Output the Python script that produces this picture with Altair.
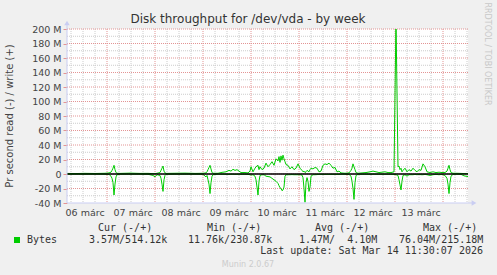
import altair as alt
import pandas as pd

# ---- data (hours since 06 márc 00:00, MB/s) ----
hours = [4, 8, 13, 18, 23, 25, 26, 26.5, 27, 27.5,
         28, 28.5, 29, 30.5, 35.5, 40.5, 44.5, 47, 48, 49,
         50.5, 51, 51.5, 52, 52.5, 53, 53.5, 58, 63, 68,
         72, 73.5, 74, 74.5, 75, 75.5, 76, 76.5, 77, 79.5,
         81.5, 83.5, 85, 86, 87, 88, 89, 90, 91, 93,
         94.5, 95.5, 96, 97, 98, 98.5, 99, 99.5, 100, 100.5,
         101.5, 102.5, 103.5, 104.5, 105.5, 106.5, 107.5, 108.5, 109.5, 110,
         110.5, 111, 111.5, 112, 112.5, 113, 113.5, 114.5, 115.5, 116.5,
         117.5, 118.5, 119.5, 120.5, 121.5, 122, 122.5, 123, 123.5, 124,
         124.5, 125, 125.5, 126, 127, 128, 129, 130, 131, 132,
         133, 134, 135, 136, 137, 138, 139, 140, 141, 143,
         145, 146, 146.5, 147, 147.5, 148, 148.5, 149.5, 151.5, 153.5,
         155.5, 157, 158.5, 160, 161.5, 163, 164.5, 166, 167.5, 168.5,
         169.5, 170, 170.5, 171, 171.5, 172, 173, 174, 175, 176,
         177, 178, 179, 180, 181, 182, 183, 184, 185.5, 187,
         188.5, 190, 191.5, 193, 194, 194.5, 195, 195.5, 196, 197,
         199, 201, 202.5, 204.5]

write_mb = [0.8, 0.6, 0.9, 0.7, 1.0, 1.5, 2.5, 5, 8, 12,
            6, 2, 1, 0.8, 1.2, 0.8, 0.9, 0.5, 0.5, 1,
            2, 5, 8, 11, 4, 1.5, 0.8, 1, 1.2, 0.8,
            1, 1.5, 3, 6, 9, 12, 7, 2, 1, 1,
            2.3, 3, 5, 4, 6.5, 5, 6, 4, 2, 2,
            1.5, 4, 10, 3, 8, 10, 11, 12, 6, 10,
            6, 8, 15, 10, 13, 17, 12, 21, 18, 24,
            16, 25, 19, 26, 21, 17, 13, 12, 7, 10,
            6, 8, 14, 8, 5, 3, 4, 2, 3, 5,
            4, 3, 6, 8, 7, 9, 8, 3, 4, 12,
            14, 13, 15, 12, 8, 9, 3, 4, 1.5, 1,
            1.5, 5, 8, 14, 10, 6, 2, 1, 1.5, 2,
            3, 4, 3, 2, 2.5, 3, 2, 2, 3, 215,
            10, 11, 6, 8, 3, 5, 8, 3, 6, 4,
            8, 5, 3, 6, 5, 14, 10, 3, 2, 3,
            2, 2.5, 2, 2, 4, 8, 12, 6, 2, 1,
            1, 0.8, 0.6, 0.51]

read_mb = [0.3, 0.2, 0.3, 0.2, 0.4, 0.5, 3, 6, 12, 29,
           14, 4, 1, 0.3, 0.2, 0.3, 0.4, 2, 4, 1,
           2, 6, 14, 24, 8, 2, 0.5, 0.3, 0.2, 0.3,
           0.4, 4, 2, 8, 14, 27, 12, 3, 1, 0.3,
           0.3, 0.3, 0.5, 0.3, 0.3, 0.5, 0.4, 0.3, 0.3, 0.3,
           0.5, 1, 1.4, 1, 3, 8, 18, 29, 10, 2,
           1, 1, 3, 3.5, 4, 6, 8, 10, 13, 16,
           19, 20, 23, 22, 18, 3, 1, 1, 1, 0.8,
           1, 1, 1, 1, 1.5, 5, 20, 39, 12, 5,
           10, 24, 18, 3, 1, 1, 0.8, 0.5, 0.5, 0.5,
           0.6, 0.5, 0.5, 0.5, 0.5, 0.5, 0.5, 0.5, 0.3, 0.3,
           0.5, 3, 10, 20, 35, 12, 2, 0.5, 0.3, 0.3,
           0.5, 0.3, 0.3, 0.3, 0.4, 0.3, 0.3, 0.4, 0.5, 1,
           2, 8, 15, 22, 10, 2, 1, 3, 1, 1,
           1, 0.5, 1, 0.5, 1, 1, 0.5, 1, 2, 1,
           0.5, 1, 0.5, 2, 6, 14, 27, 12, 3, 0.5,
           0.3, 0.5, 2.5, 3.57]

day_labels = ['06 márc', '07 márc', '08 márc', '09 márc',
              '10 márc', '11 márc', '12 márc', '13 márc']
y_ticks = [-40, -20, 0, 20, 40, 60, 80, 100, 120, 140, 160, 180, 200]

legend_headers = ['Cur (-/+)', 'Min (-/+)', 'Avg (-/+)', 'Max (-/+)']
legend_values = ['3.57M/514.12k', '11.76k/230.87k',
                 '1.47M/\u00a0\u00a04.10M', '76.04M/215.18M']

# ---- build frames ----
series = pd.DataFrame({
    'h': hours * 2,
    'v': write_mb + [-r for r in read_mb],
    's': ['write'] * len(hours) + ['read'] * len(hours),
})

W, H = 401, 174
xs = alt.Scale(domain=[4, 204.5], nice=False, zero=False)
ys = alt.Scale(domain=[-40, 200], nice=False, zero=False)

GRID_GRAY = '#cccccc'
GRID_RED = '#e39494'
AXIS_BLUE = '#c9cdf2'

label_expr = "[" + ",".join("'%s'" % d for d in day_labels) + "][floor(datum.value / 24)]"
x_axis = alt.Axis(
    values=[12.8 + 24 * i for i in range(len(day_labels))],
    labelExpr=label_expr, title=None, grid=False, domain=False, ticks=False,
    labelFont='DejaVu Sans', labelFontSize=9.5, labelColor='#444', labelPadding=4)
y_axis = alt.Axis(
    values=y_ticks, labelExpr="datum.value == 0 ? '0' : datum.value + ' M'",
    title=None, grid=False, domain=False, tickColor=GRID_RED, tickSize=4,
    labelFont='DejaVu Sans', labelFontSize=9.5, labelColor='#444', labelPadding=2)

minor_v = pd.DataFrame({'h': [h for h in range(6, 205, 6) if h % 24 != 0]})
major_v = pd.DataFrame({'h': list(range(24, 205, 24))})
minor_h = pd.DataFrame({'v': list(range(-30, 200, 20))})
major_h = pd.DataFrame({'v': [t for t in y_ticks if t > -40]})


def vrules(df, color):
    return alt.Chart(df).mark_rule(color=color, strokeWidth=1, strokeDash=[1, 1]).encode(
        x=alt.X('h:Q', scale=xs, axis=x_axis))


def hrules(df, color):
    return alt.Chart(df).mark_rule(color=color, strokeWidth=1, strokeDash=[1, 1]).encode(
        y=alt.Y('v:Q', scale=ys, axis=y_axis))


def line_layer(opacity):
    return alt.Chart(series).mark_line(color='#00cc00', strokeWidth=1, clip=True,
                                       opacity=opacity).encode(
        x=alt.X('h:Q', scale=xs, axis=x_axis),
        y=alt.Y('v:Q', scale=ys, axis=y_axis),
        detail='s:N',
    )


zero_line = alt.Chart(pd.DataFrame({'v': [0]})).mark_rule(color='black', strokeWidth=1.5).encode(
    y=alt.Y('v:Q', scale=ys, axis=y_axis))

one = pd.DataFrame({'t': ['']})

y_axis_line = alt.Chart(one).mark_rule(color=AXIS_BLUE, strokeWidth=1).encode(
    x=alt.value(0), y=alt.value(-4), y2=alt.value(H))
x_axis_line = alt.Chart(one).mark_rule(color=AXIS_BLUE, strokeWidth=1).encode(
    x=alt.value(0), x2=alt.value(W + 4), y=alt.value(H))
y_arrow = alt.Chart(one).mark_point(shape='triangle-up', filled=True, color=AXIS_BLUE,
                                    size=30, opacity=1).encode(x=alt.value(0), y=alt.value(-6))
x_arrow = alt.Chart(one).mark_point(shape='triangle-right', filled=True, color=AXIS_BLUE,
                                    size=30, opacity=1).encode(x=alt.value(W + 6), y=alt.value(H))


def txt(text, x, y, font='DejaVu Sans', size=10, color='#333', align='left',
        angle=0, baseline='alphabetic'):
    return alt.Chart(pd.DataFrame({'t': [text]})).mark_text(
        font=font, fontSize=size, color=color, align=align, angle=angle,
        baseline=baseline).encode(x=alt.value(x), y=alt.value(y), text='t:N')


ox, oy = 67, 29  # plot origin in page pixels
texts = [
    txt('Disk throughput for /dev/vda - by week', 248 - ox, 23 - oy, size=12,
        color='#333', align='center'),
    txt('Pr second read (-) / write (+)', 10 - ox, 116 - oy, size=10, color='#444',
        align='center', angle=270, baseline='middle'),
    txt('RRDTOOL / TOBI OETIKER', 487 - ox, 54 - oy, size=8, color='#c8c8c8',
        align='center', angle=90, baseline='middle'),
    txt('Bytes', 27 - ox, 243 - oy, font='DejaVu Sans Mono', size=10),
    txt('Last update: Sat Mar 14 11:30:07 2026', 483 - ox, 254 - oy,
        font='DejaVu Sans Mono', size=10, align='right'),
    txt('Munin 2.0.67', 248 - ox, 267 - oy, size=8, color='#cccccc', align='center'),
]
for label, px in zip(legend_headers, [98, 207, 315, 423]):
    texts.append(txt(label, px - ox, 230.5 - oy, font='DejaVu Sans Mono', size=10))
for label, px in zip(legend_values, [89, 188, 299, 399]):
    texts.append(txt(label, px - ox, 243 - oy, font='DejaVu Sans Mono', size=10))

swatch = alt.Chart(one).mark_rect(color='#00cc00').encode(
    x=alt.value(14 - ox), x2=alt.value(20 - ox), y=alt.value(237 - oy), y2=alt.value(243 - oy))

chart = alt.layer(
    line_layer(0),
    vrules(minor_v, GRID_GRAY), hrules(minor_h, GRID_GRAY),
    vrules(major_v, GRID_RED), hrules(major_h, GRID_RED),
    line_layer(1), zero_line,
    y_axis_line, x_axis_line, y_arrow, x_arrow, swatch,
    *texts,
).properties(
    width=W, height=H, background='#f0f0f0',
    autosize=alt.AutoSizeParams(type='none'),
    padding={'left': ox, 'top': oy, 'right': 497 - ox - W, 'bottom': 275 - oy - H},
).configure_view(stroke=None, fill='white')

chart.save('out.html', embed_options={'renderer': 'svg', 'actions': False})
